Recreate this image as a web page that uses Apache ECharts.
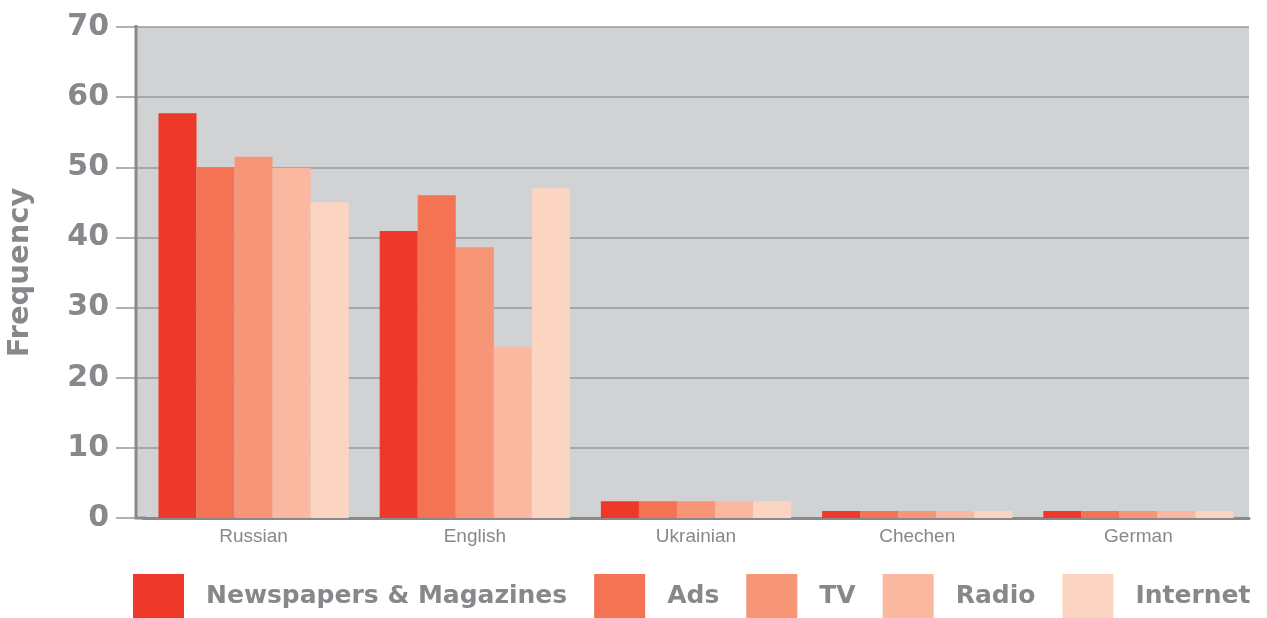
<!DOCTYPE html>
<html>
<head>
<meta charset="utf-8">
<script src="https://cdn.jsdelivr.net/npm/echarts@6/dist/echarts.min.js"></script>
<style>
  html, body { margin: 0; padding: 0; background: #fff; }
  #chart { width: 1267px; height: 618px; }
</style>
</head>
<body>
<div id="chart"></div>
<script>
// chart data
const languages = ['Russian', 'English', 'Ukrainian', 'Chechen', 'German']
const newspapers = [57.7, 40.9, 2.4, 1, 1]
const ads = [50, 46, 2.4, 1, 1]
const tv = [51.5, 38.6, 2.4, 1, 1]
const radio = [49.9, 24.4, 2.4, 1, 1]
const internet = [45, 47, 2.4, 1, 1]
const yTicks = [0, 10, 20, 30, 40, 50, 60, 70]

const grey = '#87888b'
const bold = 'DejaVu Sans'

function bar(name, data, color) {
  return {
    name: name,
    type: 'bar',
    data: data,
    barGap: 0,
    barCategoryGap: '14%',
    itemStyle: { color: color },
    animation: false
  }
}

const chart = echarts.init(document.getElementById('chart'))
chart.setOption({
  animation: false,
  grid: {
    left: 143,
    right: 18,
    top: 27,
    bottom: 100,
    outerBoundsMode: 'none',
    containLabel: false,
    show: true,
    backgroundColor: '#d1d2d4',
    borderWidth: 0
  },
  legend: {
    left: 128,
    top: 569,
    icon: 'rect',
    itemWidth: 51,
    itemHeight: 44,
    itemGap: 27,
    textStyle: {
      fontFamily: bold,
      fontWeight: 'bold',
      fontSize: 25,
      color: grey,
      padding: [11, 0, 0, 17]
    },
    data: ['Newspapers & Magazines', 'Ads', 'TV', 'Radio', 'Internet']
  },
  xAxis: {
    type: 'category',
    data: languages,
    axisLine: { lineStyle: { color: '#88898c', width: 3 } },
    axisTick: { show: false },
    axisLabel: {
      margin: 9,
      fontFamily: 'Liberation Sans',
      fontSize: 19,
      color: grey
    }
  },
  yAxis: {
    type: 'value',
    min: yTicks[0],
    max: yTicks[yTicks.length - 1],
    interval: 10,
    name: 'Frequency',
    nameLocation: 'middle',
    nameRotate: 90,
    nameGap: 108,
    nameTextStyle: {
      fontFamily: bold,
      fontWeight: 'bold',
      fontSize: 29,
      color: grey
    },
    axisLine: { show: false },
    axisTick: { show: true, length: 27, lineStyle: { color: '#97989b', width: 1.5 } },
    splitLine: { lineStyle: { color: '#97989b', width: 1.5 } },
    axisLabel: {
      margin: 34,
      fontFamily: bold,
      fontWeight: 'bold',
      fontSize: 30,
      color: grey
    }
  },
  graphic: [
    {
      type: 'rect',
      z: -1,
      shape: { x: 136, y: 27, width: 8, height: 491 },
      style: { fill: '#d1d2d4' }
    },
    {
      type: 'polyline',
      z: 10,
      shape: { points: [[136, 25], [136, 518], [146, 518]] },
      style: { stroke: '#88898c', lineWidth: 3, fill: null }
    }
  ],
  series: [
    bar('Newspapers & Magazines', newspapers, '#ee382a'),
    bar('Ads', ads, '#f37353'),
    bar('TV', tv, '#f69677'),
    bar('Radio', radio, '#fab8a1'),
    bar('Internet', internet, '#fcd5c2')
  ]
})
</script>
</body>
</html>
